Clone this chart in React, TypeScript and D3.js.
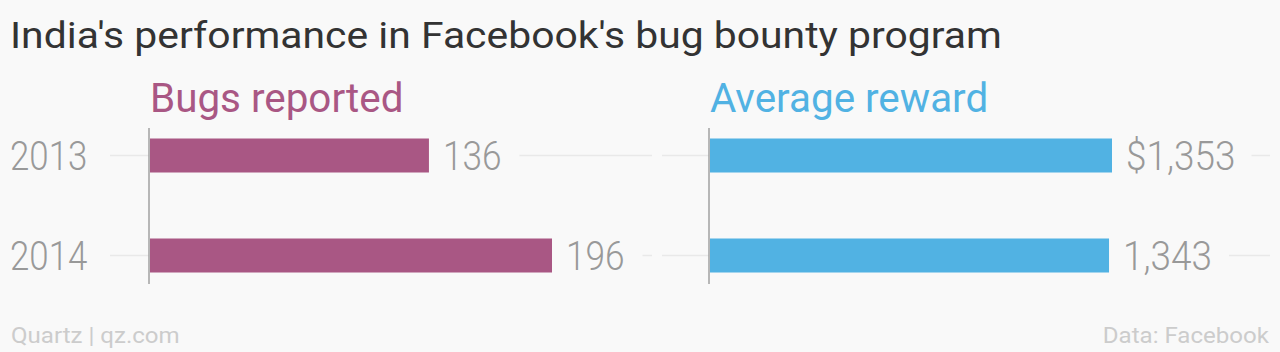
import React from "react";
import * as d3 from "d3";

const years = ["2013", "2014"];
const bugsReported = [136, 196];
const averageReward = [1353, 1343];
const rewardLabels = ["$1,353", "1,343"];
const bugLabels = ["136", "196"];

const W = 1280;
const H = 352;
const BG = "#f9f9f9";
const PURPLE = "#a95784";
const BLUE = "#51b2e3";
const NUM_GRAY = "#999999";
const GRID = "#e9e9e9";

const NUM_FONT = "Roboto";
const SX = 0.85; // horizontal condensation for the numbers

function CondText({ x, y, text, size, fill, anchor = "start", weight = 300, family = NUM_FONT, sx = SX }: any) {
  return (
    <g transform={`translate(${x},${y}) scale(${sx},1)`}>
      <text x={0} y={0} fontFamily={family} fontSize={size} fontWeight={weight} fill={fill} textAnchor={anchor}>
        {text}
      </text>
    </g>
  );
}

export default function App() {
  const y = d3.scalePoint<string>().domain(years).range([155.5, 255.5]);
  const barH = 34;

  const panels = [
    { title: "Bugs reported", color: PURPLE, values: bugsReported, labels: bugLabels, x0: 149, gridStart: 110, gridEnd: 652 },
    { title: "Average reward", color: BLUE, values: averageReward, labels: rewardLabels, x0: 709, gridStart: 662, gridEnd: 1270 },
  ];

  return (
    <div style={{ position: "absolute", left: 0, top: 0 }}>
      <svg width={W} height={H} style={{ display: "block", background: BG }}>
        <rect x={0} y={0} width={W} height={H} fill={BG} />
        <CondText x={10} y={48} text="India's performance in Facebook's bug bounty program" size={37.5} fill="#333333" weight={400} sx={1.09} />
        {panels.map((p, pi) => {
          const x = d3.scaleLinear().domain([0, d3.max(p.values) as number]).range([p.x0 + 1, p.x0 + 1 + 402]);
          return (
            <g key={pi}>
              <CondText x={p.x0 + 1} y={112} text={p.title} size={40} fill={p.color} weight={400} sx={1.01} />
              {years.map((yr, i) => {
                const cy = y(yr) as number;
                const end = x(p.values[i]);
                const lbl = p.labels[i];
                const hasComma = lbl.includes(",");
                const labelW = lbl.replace(/,/g, "").length * 19.5 + (hasComma ? 10 : 0);
                return (
                  <g key={yr}>
                    <line x1={p.gridStart} x2={p.x0} y1={cy} y2={cy} stroke={GRID} strokeWidth={1.5} />
                    <line x1={end + 14 + labelW + 18} x2={p.gridEnd} y1={cy} y2={cy} stroke={GRID} strokeWidth={1.5} />
                    <rect x={x(0)} y={cy - barH / 2} width={end - x(0)} height={barH} fill={p.color} />
                    <CondText x={end + 14} y={cy + 14.5} text={lbl} size={41} fill={NUM_GRAY} sx={hasComma ? 0.9 : 0.86} />
                  </g>
                );
              })}
              <line x1={p.x0} x2={p.x0} y1={128} y2={284} stroke="#a0a0a0" strokeWidth={1.5} />
            </g>
          );
        })}
        {years.map((yr) => (
          <CondText key={yr} x={10} y={(y(yr) as number) + 14.5} text={yr} size={41} fill={NUM_GRAY} />
        ))}
        <CondText x={11} y={343} text="Quartz | qz.com" size={22.5} fill="#cccccc" weight={400} sx={1.07} />
        <CondText x={1269} y={343} text="Data: Facebook" size={22.5} fill="#cccccc" anchor="end" weight={400} sx={1.07} />
      </svg>
    </div>
  );
}
